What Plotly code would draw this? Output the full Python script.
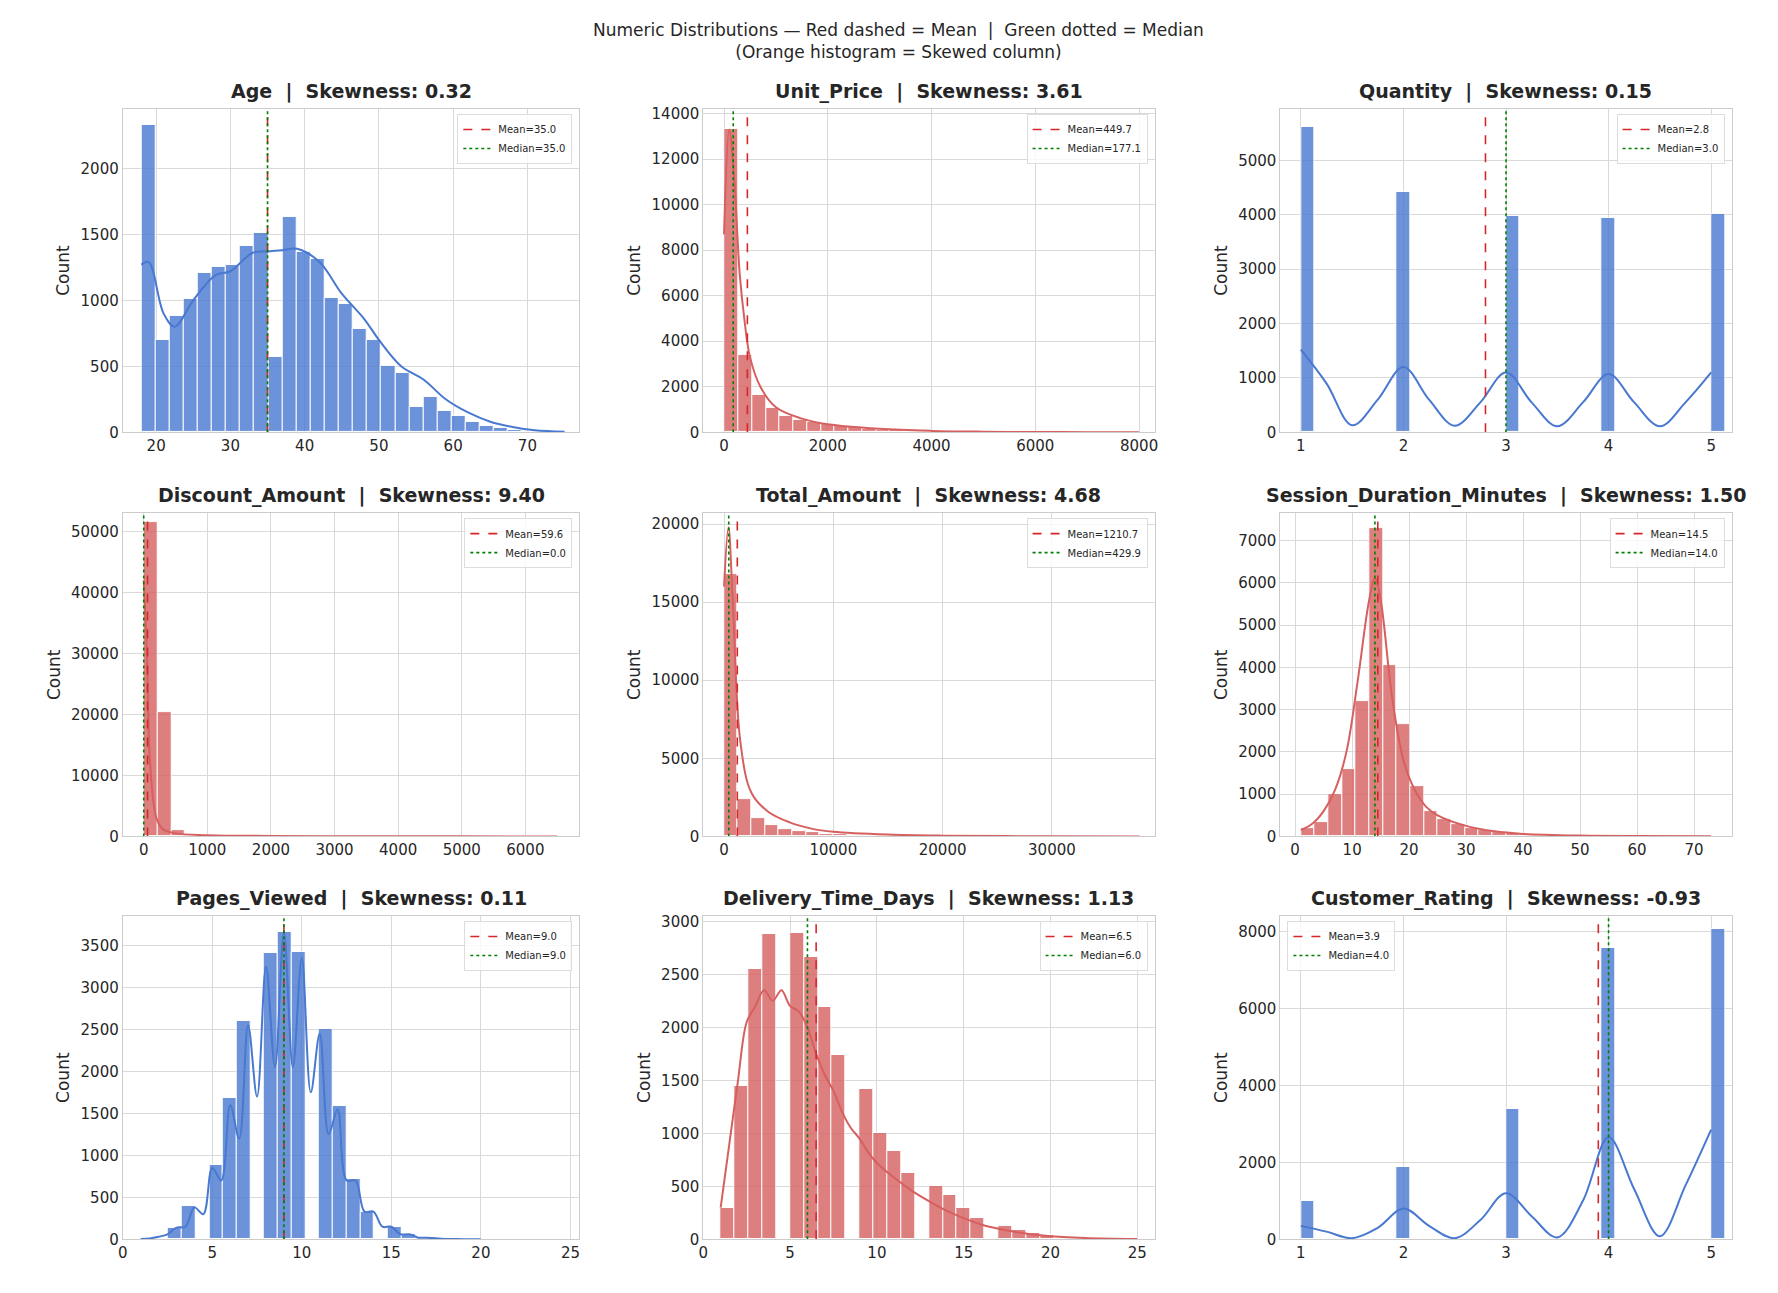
import plotly.graph_objects as go
from plotly.subplots import make_subplots

BLUE = '#4878d0'
RED = '#d65f5f'

# ---- data ----
age_start, age_size = 18, 1.9
age_counts = [2330, 700, 880, 1010, 1210, 1250, 1270, 1410, 1510, 570, 1630, 1370, 1310, 1020, 970,
              780, 700, 500, 450, 190, 270, 160, 120, 80, 50, 30, 20, 10, 5, 3]
age_kde_x = [18, 19, 21, 22.5, 25, 28, 30, 33, 35, 37, 39, 42, 45, 48, 50, 53, 56, 59, 62, 65, 68, 71, 75]
age_kde_y = [1270, 1290, 900, 800, 1000, 1190, 1220, 1360, 1370, 1380, 1390, 1290, 1050, 860, 700, 500, 400, 250, 150, 80, 40, 15, 3]

price_start, price_size = 10, 265
price_counts = [13300, 3400, 1650, 1050, 700, 550, 450, 350, 280, 220, 160, 120, 100, 80, 60, 50, 40, 30,
                20, 20, 15, 10, 10, 8, 5, 5, 3, 3, 2, 2]
price_kde_x = [0, 100, 200, 300, 400, 500, 700, 1000, 1500, 2000, 3000, 4000, 5000, 6000, 7000, 8000]
price_kde_y = [8700, 13300, 11000, 7000, 4800, 3300, 2000, 1100, 600, 350, 150, 60, 25, 10, 5, 2]

qty_values = [1, 2, 3, 4, 5]
qty_counts = [5620, 4420, 3980, 3940, 4020]
qty_kde_x = [1, 1.25, 1.5, 1.75, 2, 2.25, 2.5, 2.75, 3, 3.25, 3.5, 3.75, 4, 4.25, 4.5, 4.75, 5]
qty_kde_y = [1520, 900, 130, 600, 1200, 600, 120, 550, 1100, 550, 110, 550, 1070, 550, 110, 550, 1100]

disc_start, disc_size = 0, 217
disc_counts = [51500, 20400, 1000, 400, 250, 180, 130, 100, 80, 60, 50, 40, 30, 25, 20, 15, 12, 10, 8, 6,
               5, 4, 3, 3, 2, 2, 1, 1, 1, 1]
disc_kde_x = [0, 50, 100, 200, 300, 500, 1000, 2000, 3000, 4000, 5000, 6500]
disc_kde_y = [42000, 30000, 12000, 3000, 1200, 500, 200, 80, 40, 20, 10, 3]

tot_start, tot_size = 0, 1250
tot_counts = [16800, 2400, 1200, 700, 450, 330, 250, 180, 140, 110, 90, 70, 55, 45, 35, 30, 25, 20, 15, 12,
              10, 8, 6, 5, 4, 3, 3, 2, 2, 1]
tot_kde_x = [0, 400, 800, 1500, 2500, 4000, 6000, 8000, 10000, 15000, 20000, 30000, 38000]
tot_kde_y = [16000, 19800, 15000, 6000, 2800, 1600, 900, 500, 300, 120, 50, 10, 2]

sess_start, sess_size = 1, 2.4
sess_counts = [200, 350, 1000, 1600, 3200, 7300, 4050, 2650, 1200, 600, 400, 300, 200, 150, 100, 80, 60, 40,
               30, 20, 15, 10, 8, 5, 4, 3, 2, 2, 1, 1]
sess_kde_x = [1, 3, 5, 7, 9, 11, 13, 14, 15, 17, 19, 21, 23, 25, 30, 35, 40, 50, 60, 73]
sess_kde_y = [150, 300, 600, 1100, 2000, 3700, 5600, 6100, 5600, 3300, 1800, 1100, 700, 500, 250, 120, 60, 20, 8, 2]

pages_values = list(range(1, 21))
pages_counts = [3, 20, 140, 400, 880, 1680, 2600, 3410, 3660, 3420, 2510, 1590, 720, 330, 150, 60, 20, 8, 3, 1]
pages_kde_x = [1, 1.5, 2, 2.5, 3, 3.5, 4, 4.5, 5, 5.5, 6, 6.5, 7, 7.5, 8, 8.5, 9, 9.5, 10, 10.5, 11, 11.5,
               12, 12.5, 13, 13.5, 14, 14.5, 15, 15.5, 16, 16.5, 17, 18, 19, 20]
pages_kde_y = [5, 10, 30, 60, 140, 150, 380, 300, 850, 700, 1600, 1200, 2550, 1700, 3250, 2050, 3650, 2050,
               3350, 1750, 2450, 1250, 1550, 700, 700, 330, 330, 150, 150, 60, 60, 20, 20, 5, 2, 0]

deliv_values = list(range(1, 26))
deliv_counts = [300, 1450, 2550, 2880, 2890, 2660, 2190, 1740, 1420, 1000, 830, 630, 500, 420, 300, 200, 130,
                90, 60, 40, 25, 15, 10, 5, 3]
deliv_kde_x = [1, 1.5, 2, 2.5, 3, 3.5, 4, 4.5, 5, 5.5, 6, 6.5, 7, 7.5, 8, 8.5, 9, 9.5, 10, 11, 12, 13, 14,
               15, 16, 17, 18, 19, 20, 22, 25]
deliv_kde_y = [300, 900, 1500, 2050, 2200, 2350, 2250, 2350, 2200, 2150, 2000, 1750, 1550, 1400, 1200, 1050,
               950, 820, 720, 580, 460, 360, 270, 200, 140, 100, 70, 45, 30, 12, 2]

rate_values = [1, 2, 3, 4, 5]
rate_counts = [1000, 1870, 3380, 7580, 8070]
rate_kde_x = [1, 1.25, 1.5, 1.75, 2, 2.25, 2.5, 2.75, 3, 3.25, 3.5, 3.75, 4, 4.25, 4.5, 4.75, 5]
rate_kde_y = [350, 200, 30, 300, 800, 350, 30, 500, 1200, 600, 50, 1000, 2650, 1300, 80, 1400, 2850]

panels = [
    # name, skew, color, x, counts, (bin start, bin size), kde x, kde y, mean, median, xrange, dtick, ymax, dticky, legend side
    ('Age', '0.32', BLUE, None, age_counts, (age_start, age_size), age_kde_x, age_kde_y, 35.0, 35.0, [15.5, 77], 10, 2450, 500, 'r'),
    ('Unit_Price', '3.61', RED, None, price_counts, (price_start, price_size), price_kde_x, price_kde_y, 449.7, 177.1, [-400, 8300], 2000, 14200, 2000, 'r'),
    ('Quantity', '0.15', BLUE, qty_values, qty_counts, (1, 4 / 30), qty_kde_x, qty_kde_y, 2.8, 3.0, [0.8, 5.2], 1, 5950, 1000, 'r'),
    ('Discount_Amount', '9.40', RED, None, disc_counts, (disc_start, disc_size), disc_kde_x, disc_kde_y, 59.6, 0.0, [-330, 6850], 1000, 53000, 10000, 'r'),
    ('Total_Amount', '4.68', RED, None, tot_counts, (tot_start, tot_size), tot_kde_x, tot_kde_y, 1210.7, 429.9, [-1900, 39400], 10000, 20700, 5000, 'r'),
    ('Session_Duration_Minutes', '1.50', RED, None, sess_counts, (sess_start, sess_size), sess_kde_x, sess_kde_y, 14.5, 14.0, [-2.6, 76.6], 10, 7650, 1000, 'r'),
    ('Pages_Viewed', '0.11', BLUE, pages_values, pages_counts, (1, 23 / 30), pages_kde_x, pages_kde_y, 9.0, 9.0, [0, 25.5], 5, 3850, 500, 'r'),
    ('Delivery_Time_Days', '1.13', RED, deliv_values, deliv_counts, (1, 0.8), deliv_kde_x, deliv_kde_y, 6.5, 6.0, [0, 26], 5, 3050, 500, 'r'),
    ('Customer_Rating', '-0.93', BLUE, rate_values, rate_counts, (1, 4 / 30), rate_kde_x, rate_kde_y, 3.9, 4.0, [0.8, 5.2], 1, 8400, 2000, 'l'),
]

xdoms = [(0.062, 0.320), (0.390, 0.645), (0.716, 0.971)]
ydoms = [(0.672, 0.928), (0.352, 0.608), (0.033, 0.289)]

fig = make_subplots(rows=3, cols=3)
FONT = 'DejaVu Sans'

for i, (name, skew, color, xs, counts, (start, size), kx, ky, mean, med, xr, dt, ymax, dty, side) in enumerate(panels):
    r, c = i // 3 + 1, i % 3 + 1
    if xs is None:
        xs = [start + (k + 0.5) * size for k in range(len(counts))]
    lg = 'legend' if i == 0 else f'legend{i + 1}'
    fig.add_trace(go.Histogram(x=xs, y=counts, histfunc='sum',
                               xbins=dict(start=start, end=start + 31 * size, size=size),
                               marker=dict(color=color, opacity=0.8, line=dict(color='white', width=1)),
                               showlegend=False), row=r, col=c)
    fig.add_trace(go.Scatter(x=kx, y=ky, mode='lines', line=dict(color=color, width=2, shape='spline', smoothing=1.0),
                             showlegend=False), row=r, col=c)
    fig.add_trace(go.Scatter(x=[mean, mean], y=[0, ymax], mode='lines', name=f'Mean={mean:.1f}',
                             line=dict(color='#d62728', width=1.6, dash='dash'), legend=lg), row=r, col=c)
    fig.add_trace(go.Scatter(x=[med, med], y=[0, ymax], mode='lines', name=f'Median={med:.1f}',
                             line=dict(color='green', width=1.6, dash='dot'), legend=lg), row=r, col=c)
    xd, yd = xdoms[c - 1], ydoms[r - 1]
    ax = '' if i == 0 else str(i + 1)
    fig.layout['xaxis' + ax].update(domain=list(xd), range=xr, dtick=dt, showgrid=True, gridcolor='#d9d9d9',
                                    showline=True, linecolor='#cccccc', mirror=True, zeroline=False,
                                    ticks='', tickformat='d', tickfont=dict(size=15, color='#262626'))
    fig.layout['yaxis' + ax].update(domain=list(yd), range=[0, ymax], dtick=dty, showgrid=True, gridcolor='#d9d9d9',
                                    showline=True, linecolor='#cccccc', mirror=True, zeroline=False, tickformat='d',
                                    title=dict(text='Count', font=dict(size=17, color='#262626'), standoff=6),
                                    tickfont=dict(size=15, color='#262626'))
    fig.layout[lg] = dict(x=xd[1] - 0.004 if side == 'r' else xd[0] + 0.004, y=yd[1] - 0.004,
                          xanchor='right' if side == 'r' else 'left', yanchor='top',
                          font=dict(size=10, family=FONT, color='#262626'), bgcolor='rgba(255,255,255,0.8)',
                          bordercolor='#dddddd', borderwidth=1, tracegroupgap=0)
    fig.add_annotation(x=(xd[0] + xd[1]) / 2, y=yd[1] + 0.003, xref='paper', yref='paper',
                       xanchor='center', yanchor='bottom',
                       showarrow=False, text=f'<b>{name}  |  Skewness: {skew}</b>',
                       font=dict(size=19, family=FONT, color='#262626'))

fig.add_annotation(x=0.5, y=1.0, xref='paper', yref='paper', xanchor='center', yanchor='top', showarrow=False,
                   text='Numeric Distributions — Red dashed = Mean  |  Green dotted = Median<br>(Orange histogram = Skewed column)',
                   font=dict(size=17, family=FONT, color='#262626'))

fig.update_layout(width=1778, height=1293, margin=dict(l=0, r=0, t=10, b=20), plot_bgcolor='white',
                  paper_bgcolor='white', font=dict(family=FONT), bargap=0)
fig.write_html("out.html")
